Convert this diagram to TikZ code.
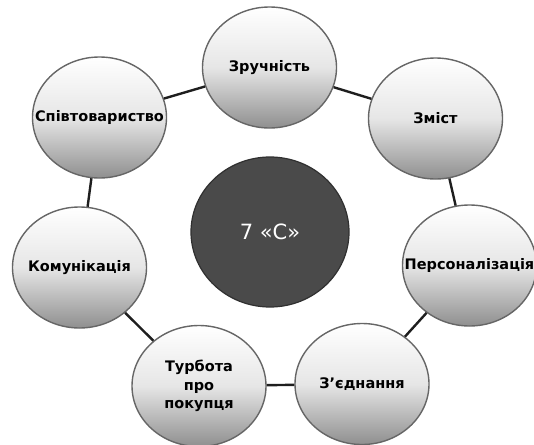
\documentclass[tikz,border=0pt]{standalone}
\usepackage{fontspec}
\setmainfont{DejaVu Sans}
\usepackage{xcolor}
\usepackage{tikz}
\usetikzlibrary{shapes.geometric}
\definecolor{ringedge}{HTML}{666666}
\definecolor{ringbottom}{HTML}{8F8F8F}
\definecolor{ringmid}{HTML}{E6E6E6}
\definecolor{corefill}{HTML}{4A4A4A}
\definecolor{coreedge}{HTML}{303030}
\definecolor{linkline}{HTML}{1E1E1E}
\tikzset{
  ring/.style={ellipse, draw=ringedge, line width=1.4pt, top color=white, bottom color=ringbottom,
    middle color=ringmid, minimum width=134pt, minimum height=121pt, inner sep=0pt},
  ringtxt/.style={align=center, inner sep=0pt, font=\bfseries\fontsize{14.5}{18.5}\selectfont, text=black},
  core/.style={ellipse, draw=coreedge, line width=1.2pt, fill=corefill, minimum width=158pt,
    minimum height=150pt, inner sep=0pt, font=\fontsize{21}{24}\selectfont, text=white},
  link/.style={line width=2.4pt, draw=linkline},
}

\begin{document}
\begin{tikzpicture}[x=1pt, y=-1pt]

\useasboundingbox (0,0) rectangle (534,444);

\node[core] (s_core) at (270, 232) {7 «С»};

\node[ring] (s_conv) at (269.5, 67.5) {};
\node[ring] (s_cont) at (435.5, 118.5) {};
\node[ring] (s_pers) at (469.5, 265.5) {};
\node[ring] (s_conn) at (362, 384) {};
\node[ring] (s_care) at (199, 386) {};
\node[ring] (s_comm) at (79.5, 267.5) {};
\node[ring] (s_comty) at (99.5, 117.5) {};

\node[ringtxt] at (s_conv) {Зручність};
\node[ringtxt] at (s_cont) {Зміст};
\node[ringtxt] at (s_pers) {Персоналізація};
\node[ringtxt] at (s_conn) {З’єднання};
\node[ringtxt] at (s_care) {Турбота\\про\\покупця};
\node[ringtxt] at (s_comm) {Комунікація};
\node[ringtxt] at (s_comty) {Співтовариство};

\foreach \a/\b in {conv/cont, cont/pers, pers/conn, conn/care, care/comm, comm/comty, comty/conv}
  \draw[link] (s_\a) -- (s_\b);

\end{tikzpicture}
\end{document}
